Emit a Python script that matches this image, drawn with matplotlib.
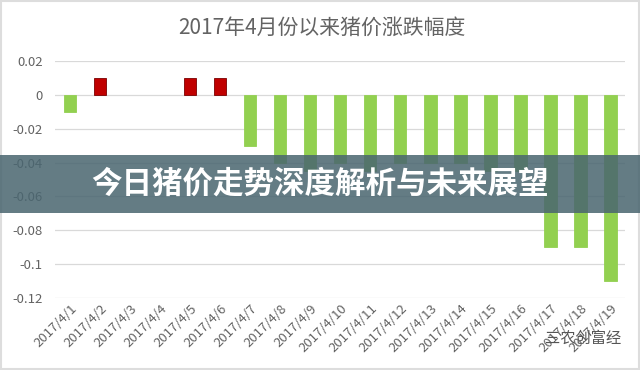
import matplotlib
matplotlib.use('Agg')
import matplotlib.pyplot as plt
from matplotlib.patches import Rectangle

plt.rcParams['font.family'] = ['Noto Sans CJK SC', 'DejaVu Sans']

# daily pig price change since 2017/4/1
dates = [f'2017/4/{d}' for d in range(1, 20)]
changes = [-0.01, 0.01, 0, 0, 0.01, 0.01, -0.03, -0.04, -0.045, -0.04,
           -0.045, -0.04, -0.04, -0.04, -0.045, -0.045, -0.09, -0.09, -0.11]
yticks = [0.02, 0, -0.02, -0.04, -0.06, -0.08, -0.1, -0.12]
ytick_labels = ['0.02', '0', '-0.02', '-0.04', '-0.06', '-0.08', '-0.1', '-0.12']

title = '2017年4月份以来猪价涨跌幅度'
banner = '今日猪价走势深度解析与未来展望'
watermark = '三农创富经'

RED, GREEN = '#C00000', '#92D050'
TXT = '#636363'

fig = plt.figure(figsize=(6.4, 3.7), dpi=100)
ax = fig.add_axes([0.086, 0.195, 0.891, 0.64])

x = range(len(dates))
cols = [RED if v > 0 else GREEN for v in changes]
edges = ['#7a0000' if v > 0 else GREEN for v in changes]
lws = [0.6 if v != 0 else 0 for v in changes]
ax.bar(x, changes, width=0.42, color=cols, edgecolor=edges, linewidth=lws, zorder=3)

ax.set_ylim(-0.12, 0.02)
ax.set_xlim(-0.5, 18.5)
ax.set_yticks(yticks)
ax.set_yticklabels(ytick_labels, color=TXT, fontsize=9.5)
ax.set_xticks(list(x))
ax.set_xticklabels(dates, rotation=45, ha='right', rotation_mode='anchor',
                   color=TXT, fontsize=9.5)
ax.tick_params(axis='y', length=0, pad=9)
ax.tick_params(axis='x', length=0, pad=3)
ax.grid(axis='y', color='#d9d9d9', linewidth=0.9, zorder=0)
for s in ax.spines.values():
    s.set_visible(False)

fig.text(0.503, 0.924, title, ha='center', va='center', fontsize=15,
         color=TXT, fontweight='light')

# overlay banner across the middle
fig.patches.append(Rectangle((0, 0.424), 1, 0.157, transform=fig.transFigure,
                             facecolor='#4a6670', alpha=0.86, zorder=5))
fig.text(0.5, 0.503, banner, ha='center', va='center', fontsize=22,
         color='white', fontweight='bold', zorder=6)

# watermark
fig.text(0.97, 0.085, watermark, ha='right', va='center', fontsize=11,
         color='#555555', zorder=6)

# outer frame
fig.patches.append(Rectangle((0.002, 0.003), 0.996, 0.994, transform=fig.transFigure,
                             fill=False, edgecolor='#dddddd', linewidth=1.5))

fig.savefig('out.png', dpi=100)
